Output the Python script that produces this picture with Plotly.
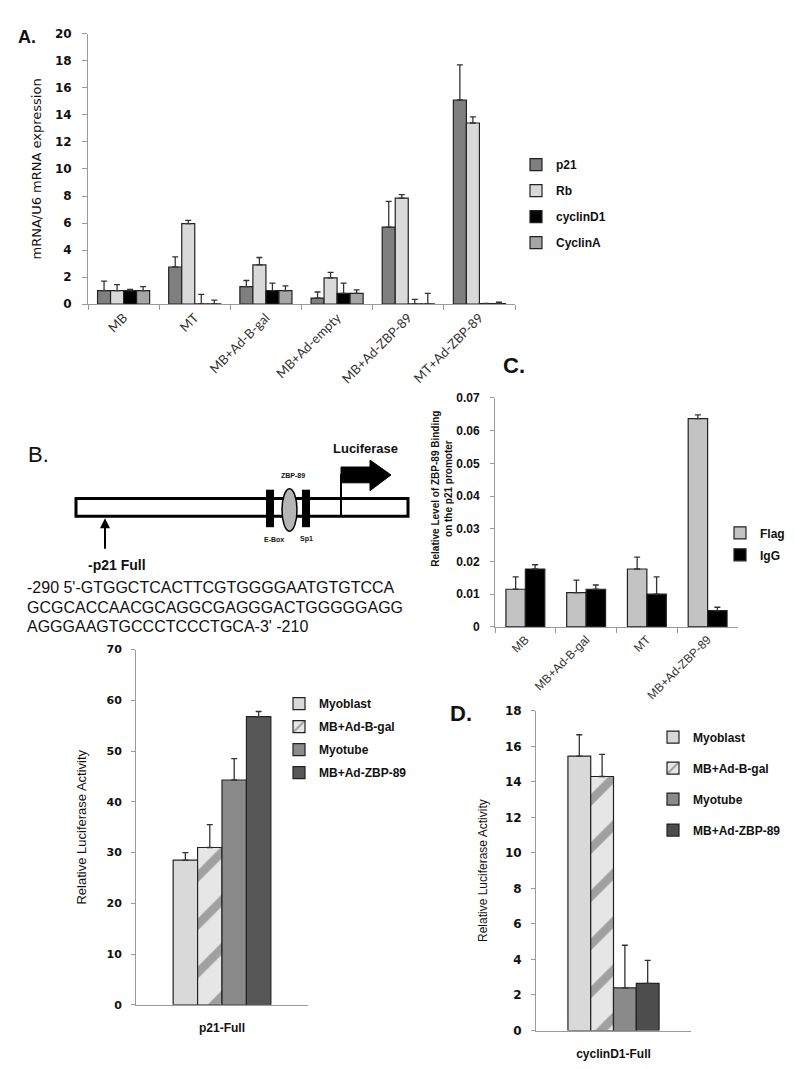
import plotly.graph_objects as go

W, H = 800, 1069

# ---- panel A: mRNA expression ----
a_groups = ['MB', 'MT', 'MB+Ad-B-gal', 'MB+Ad-empty', 'MB+Ad-ZBP-89', 'MT+Ad-ZBP-89']
a_p21 = [1.0, 2.75, 1.3, 0.45, 5.7, 15.1]
a_p21_err = [0.7, 0.75, 0.45, 0.45, 1.9, 2.6]
a_rb = [1.0, 5.95, 2.9, 1.95, 7.85, 13.4]
a_rb_err = [0.45, 0.25, 0.55, 0.4, 0.25, 0.45]
a_cyclind1 = [1.0, 0.02, 1.0, 0.8, 0.02, 0.05]
a_cyclind1_err = [0.1, 0.7, 0.55, 0.75, 0.33, 0.0]
a_cyclina = [1.0, 0.02, 1.0, 0.8, 0.02, 0.05]
a_cyclina_err = [0.3, 0.28, 0.35, 0.25, 0.78, 0.1]

# ---- panel C: ChIP ----
c_groups = ['MB', 'MB+Ad-B-gal', 'MT', 'MB+Ad-ZBP-89']
c_flag = [0.0115, 0.0105, 0.0177, 0.0637]
c_flag_err = [0.0038, 0.0038, 0.0036, 0.0011]
c_igg = [0.0177, 0.0115, 0.0100, 0.0050]
c_igg_err = [0.0013, 0.0013, 0.0053, 0.0010]

# ---- panel B: p21 luciferase ----
b_group = ['p21-Full']
b_myoblast = [28.5]
b_myoblast_err = [1.5]
b_bgal = [31.0]
b_bgal_err = [4.5]
b_myotube = [44.3]
b_myotube_err = [4.2]
b_zbp = [56.8]
b_zbp_err = [1.0]

# ---- panel D: cyclinD1 luciferase ----
d_group = ['cyclinD1-Full']
d_myoblast = [15.45]
d_myoblast_err = [1.2]
d_bgal = [14.3]
d_bgal_err = [1.25]
d_myotube = [2.4]
d_myotube_err = [2.4]
d_zbp = [2.65]
d_zbp_err = [1.3]

seq_lines = ["-290 5'-GTGGCTCACTTCGTGGGGAATGTGTCCA",
             "GCGCACCAACGCAGGCGAGGGACTGGGGGAGG",
             "AGGGAAGTGCCCTCCCTGCA-3' -210"]


def X(px):
    return px / W


def Y(py):
    return 1 - py / H


def err(arr, color='#333333'):
    return dict(type='data', array=arr, arrayminus=[0] * len(arr), symmetric=False,
                color=color, thickness=1.3, width=3)


def bar(x, y, e, name, color, xa, ya, legend, width, offset, pattern=None):
    return go.Bar(x=x, y=y, name=name, error_y=err(e), xaxis=xa, yaxis=ya,
                  legend=legend, legendgroup=legend + name, width=width, offset=offset,
                  marker=dict(color=color, line=dict(color='#222222', width=1.2),
                              pattern=pattern))


fig = go.Figure()

wa = 0.183
for i, (vals, e, name, col) in enumerate([
        (a_p21, a_p21_err, 'p21', '#7f7f7f'),
        (a_rb, a_rb_err, 'Rb', '#d9d9d9'),
        (a_cyclind1, a_cyclind1_err, 'cyclinD1', '#000000'),
        (a_cyclina, a_cyclina_err, 'CyclinA', '#a5a5a5')]):
    fig.add_trace(bar(a_groups, vals, e, name, col, 'x', 'y', 'legend', wa, -2 * wa + i * wa))

wc = 0.32
fig.add_trace(bar(c_groups, c_flag, c_flag_err, 'Flag', '#c3c3c3', 'x2', 'y2', 'legend2', wc, -wc))
fig.add_trace(bar(c_groups, c_igg, c_igg_err, 'IgG', '#000000', 'x2', 'y2', 'legend2', wc, 0))

stripe = dict(shape='/', fgcolor='#5a5a5a', bgcolor='#e6e6e6', size=34, solidity=0.25)

wb = 0.142
for i, (vals, e, name, col, pat) in enumerate([
        (b_myoblast, b_myoblast_err, 'Myoblast', '#d9d9d9', None),
        (b_bgal, b_bgal_err, 'MB+Ad-B-gal', '#e6e6e6', stripe),
        (b_myotube, b_myotube_err, 'Myotube', '#8a8a8a', None),
        (b_zbp, b_zbp_err, 'MB+Ad-ZBP-89', '#575757', None)]):
    fig.add_trace(bar(b_group, vals, e, name, col, 'x3', 'y3', 'legend3', wb, -2 * wb + i * wb, pat))

wd = 0.147
for i, (vals, e, name, col, pat) in enumerate([
        (d_myoblast, d_myoblast_err, 'Myoblast', '#d9d9d9', None),
        (d_bgal, d_bgal_err, 'MB+Ad-B-gal', '#e6e6e6', stripe),
        (d_myotube, d_myotube_err, 'Myotube', '#8a8a8a', None),
        (d_zbp, d_zbp_err, 'MB+Ad-ZBP-89', '#4d4d4d', None)]):
    fig.add_trace(bar(d_group, vals, e, name, col, 'x4', 'y4', 'legend4', wd, -2 * wd + i * wd, pat))

tickbold = dict(family='DejaVu Sans', size=12, color='#111111', weight='bold')
axline = dict(showline=True, linecolor='#9a9a9a', linewidth=1, showgrid=False, zeroline=False)

lfont = dict(family='Liberation Sans', size=12, color='#111111', weight='bold')


def leg(x, y, gap, anchor='left'):
    return dict(x=X(x), y=Y(y), xanchor=anchor, yanchor='top', font=lfont,
                bgcolor='rgba(0,0,0,0)', tracegroupgap=gap, traceorder='grouped')


fig.update_layout(
    width=W, height=H, margin=dict(l=0, r=0, t=0, b=0),
    paper_bgcolor='white', plot_bgcolor='white', barmode='overlay',
    font=dict(family='Liberation Sans', color='#111111'),
    xaxis=dict(domain=[X(80), X(507)], anchor='y', ticks='outside', tickson='boundaries',
               ticklen=5, tickcolor='#9a9a9a', tickangle=-45,
               tickfont=dict(family='Lato', size=13, color='#333333'), **axline),
    yaxis=dict(domain=[Y(293), Y(19)], anchor='x', range=[0, 20], dtick=2, ticks='outside',
               ticklen=5, tickcolor='#9a9a9a', tickfont=tickbold, ticklabelstandoff=8,
               title=dict(text='mRNA/U6 mRNA expression', standoff=10,
                          font=dict(family='DejaVu Sans', size=13)), **axline),
    xaxis2=dict(domain=[X(487), X(730)], anchor='y2', ticks='outside', tickson='boundaries',
                ticklen=5, tickcolor='#9a9a9a', tickangle=-45,
                tickfont=dict(family='Liberation Sans', size=12, color='#333333'), **axline),
    yaxis2=dict(domain=[Y(620), Y(388)], anchor='x2', range=[0, 0.07], dtick=0.01, ticks='outside',
                ticklen=4, tickcolor='#9a9a9a', ticklabelstandoff=8,
                tickfont=dict(family='Liberation Sans', size=12, color='#111111', weight='bold'),
                **axline),
    xaxis3=dict(domain=[X(128), X(300)], anchor='y3', ticks='', ticklabelstandoff=12,
                tickfont=dict(family='Liberation Sans', size=12, color='#111111', weight='bold'),
                **axline),
    yaxis3=dict(domain=[Y(1003), Y(643)], anchor='x3', range=[0, 70], dtick=10, ticks='outside',
                ticklen=4, tickcolor='#9a9a9a', tickfont=dict(tickbold, size=11), ticklabelstandoff=7,
                title=dict(text='Relative Luciferase Activity', standoff=16,
                           font=dict(family='Liberation Sans', size=13)), **axline),
    xaxis4=dict(domain=[X(528), X(683)], anchor='y4', ticks='', ticklabelstandoff=12,
                tickfont=dict(family='Liberation Sans', size=12, color='#111111', weight='bold'),
                **axline),
    yaxis4=dict(domain=[Y(1029), Y(705)], anchor='x4', range=[0, 18], dtick=2, ticks='outside',
                ticklen=4, tickcolor='#9a9a9a', tickfont=tickbold, ticklabelstandoff=7,
                title=dict(text='Relative Luciferase Activity', standoff=14,
                           font=dict(family='Liberation Sans', size=12)), **axline),
    legend=leg(508, 137, 7),
    legend2=leg(712, 510, 3),
    legend3=leg(271, 683, 4),
    legend4=leg(645, 717, 12),
)

# ---- promoter diagram (panel B) ----
def path(pts):
    return 'M' + ' L'.join(f'{X(a):.5f},{Y(b):.5f}' for a, b in pts) + ' Z'


shapes = [
    dict(type='rect', xref='paper', yref='paper', x0=X(68), x1=X(400), y0=Y(508), y1=Y(490),
         line=dict(color='black', width=3), fillcolor='white'),
    dict(type='rect', xref='paper', yref='paper', x0=X(258), x1=X(266), y0=Y(519), y1=Y(481),
         line=dict(width=0), fillcolor='black'),
    dict(type='rect', xref='paper', yref='paper', x0=X(294), x1=X(302), y0=Y(519), y1=Y(481),
         line=dict(width=0), fillcolor='black'),
    dict(type='circle', xref='paper', yref='paper', x0=X(274), x1=X(289), y0=Y(523), y1=Y(480),
         line=dict(color='black', width=1.5), fillcolor='#b5b5b5'),
    dict(type='line', xref='paper', yref='paper', x0=X(333), x1=X(333), y0=Y(508), y1=Y(465),
         line=dict(color='black', width=2)),
    dict(type='path', xref='paper', yref='paper',
         path=path([(333, 458), (362, 458), (362, 451), (383, 466), (362, 482), (362, 474), (333, 474)]),
         line=dict(color='black', width=1), fillcolor='black'),
]
fig.update_layout(shapes=shapes)


def txt(x, y, text, size, bold=False, family='Liberation Sans', anchor='center', angle=0):
    fig.add_annotation(x=X(x), y=Y(y), xref='paper', yref='paper', text=text, showarrow=False,
                       xanchor=anchor, yanchor='middle', textangle=angle,
                       font=dict(family=family, size=size, color='#111111',
                                 weight='bold' if bold else 'normal'))


txt(8, 22, 'A.', 18, True, anchor='left')
txt(18, 445, 'B.', 22, False, anchor='left')
txt(493, 355, 'C.', 22, True, anchor='left')
txt(440, 708, 'D.', 22, True, anchor='left')

txt(357, 439, 'Luciferase', 13, True)
txt(285, 467, 'ZBP-89', 7, True)
txt(266, 531, 'E-Box', 7, True)
txt(298, 531, 'Sp1', 7, True)
txt(109, 557, '-p21 Full', 14, True)
fig.add_annotation(x=X(97), y=Y(510), xref='paper', yref='paper', text='', showarrow=True,
                   ax=0, ay=32, arrowhead=2, arrowsize=1, arrowwidth=2, arrowcolor='black')

for i, line in enumerate(seq_lines):
    txt(17, 580 + i * 20, line, 16, anchor='left')

txt(434, 480, 'Relative Level of ZBP-89 Binding<br>on the p21 promoter', 10, True, angle=-90)

fig.write_html('out.html')
